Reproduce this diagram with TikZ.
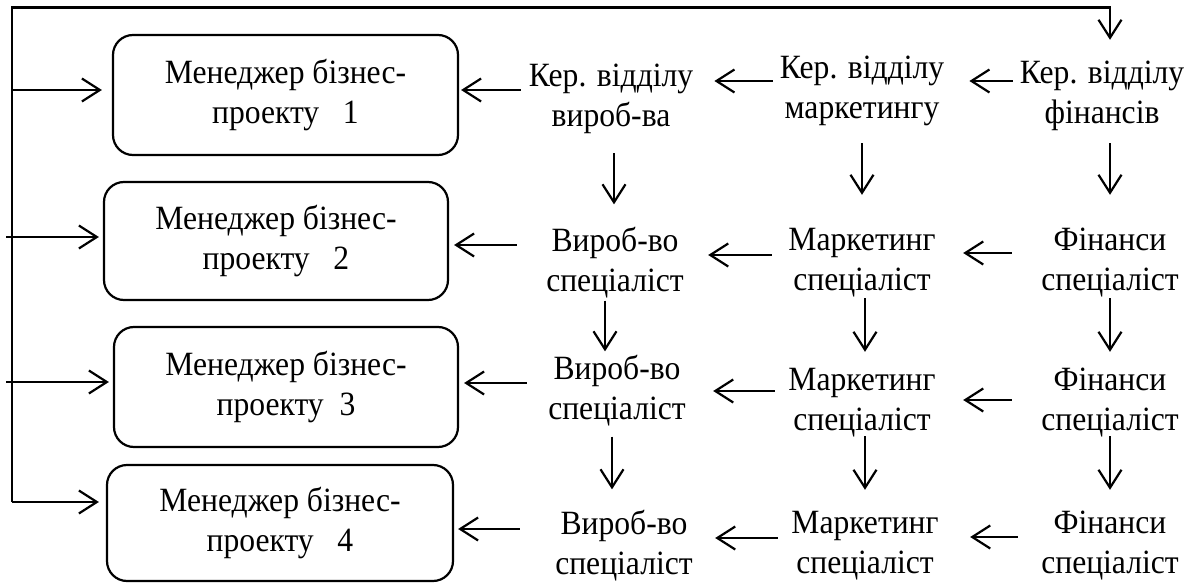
\documentclass[tikz,border=0pt]{standalone}
\usepackage{fontspec}
\setmainfont{Liberation Serif}[FakeStretch=0.93]
\usetikzlibrary{arrows.meta}
\begin{document}
\begin{tikzpicture}[x=1pt,y=-1pt,
  ln/.style={line width=2.2pt},
  arr/.style={line width=2.2pt,-{Straight Barb[length=18pt,width=23pt]}},
  txt/.style={font=\fontsize{34}{40}\selectfont,align=center,inner sep=0pt,minimum width=160pt,minimum height=70pt},
  pbox/.style={draw,line width=2.2pt,rounded corners=20pt,font=\fontsize{34}{40}\selectfont,align=center,inner sep=0pt}]
\useasboundingbox (0,0) rectangle (1192,583);
% project boxes
\node[pbox,minimum width=345pt,minimum height=120pt] (box1) at (285.5,95) {Менеджер бізнес-\\проекту\ \ \ 1};
\node[pbox,minimum width=344pt,minimum height=118pt] (box2) at (276,241) {Менеджер бізнес-\\проекту\ \ \ 2};
\node[pbox,minimum width=344pt,minimum height=120pt] (box3) at (286,387) {Менеджер бізнес-\\проекту\ \ 3};
\node[pbox,minimum width=346pt,minimum height=116pt] (box4) at (280,523) {Менеджер бізнес-\\проекту\ \ \ 4};
% department nodes
\node[txt] (A1) at (611,98.5) {Кер. відділу\\вироб-ва};
\node[txt] (B1) at (862,90.5) {Кер. відділу\\маркетингу};
\node[txt] (C1) at (1102,95.5) {Кер. відділу\\фінансів};
\node[txt] (A2) at (615,262.5) {Вироб-во\\спеціаліст};
\node[txt] (B2) at (862,262.5) {Маркетинг\\спеціаліст};
\node[txt] (C2) at (1110,262.5) {Фінанси\\спеціаліст};
\node[txt] (A3) at (617,390.5) {Вироб-во\\спеціаліст};
\node[txt] (B3) at (862,402.5) {Маркетинг\\спеціаліст};
\node[txt] (C3) at (1110,402.5) {Фінанси\\спеціаліст};
\node[txt] (A4) at (624,545.5) {Вироб-во\\спеціаліст};
\node[txt] (B4) at (865,545.5) {Маркетинг\\спеціаліст};
\node[txt] (C4) at (1110,545.5) {Фінанси\\спеціаліст};
% helper coordinates
\coordinate (topL) at (12,7.5);
\coordinate (botL) at (12,502);
\coordinate (in1) at (12,90);
\coordinate (in2) at (6,237);
\coordinate (in3) at (6,382);
\coordinate (yA1) at (0,90);  \coordinate (yB1) at (0,81);  \coordinate (yC1) at (0,81);
\coordinate (yA2) at (0,245); \coordinate (yB2) at (0,255); \coordinate (yC2) at (0,253);
\coordinate (yA3) at (0,383); \coordinate (yB3) at (0,391); \coordinate (yC3) at (0,400);
\coordinate (yA4) at (0,529); \coordinate (yB4) at (0,538); \coordinate (yC4) at (0,537);
% feedback bus
\draw[arr,shorten >=20.5pt] (botL) -- (topL) -| ([xshift=8pt]C1.north);
\draw[arr,shorten >=10pt] (in1) -- (box1.west |- in1);
\draw[arr,shorten >=4pt] (in2) -- (box2.west |- in2);
\draw[arr,shorten >=4pt] (in3) -- (box3.west |- in3);
\draw[arr,shorten >=7pt] (botL) -- (box4.west |- botL);
% horizontal arrows
\draw[arr,shorten <=8pt,shorten >=2pt] (A1.west |- yA1) -- (box1.east |- yA1);
\draw[arr,shorten <=7pt,shorten >=21pt] (B1.west |- yB1) -- (A1.east |- yB1);
\draw[arr,shorten <=7pt,shorten >=25pt] (C1.west |- yC1) -- (B1.east |- yC1);
\draw[arr,shorten <=18pt,shorten >=5pt] (A2.west |- yA2) -- (box2.east |- yA2);
\draw[arr,shorten <=10pt,shorten >=13pt] (B2.west |- yB2) -- (A2.east |- yB2);
\draw[arr,shorten <=18pt,shorten >=21pt] (C2.west |- yC2) -- (B2.east |- yC2);
\draw[arr,shorten <=10pt,shorten >=5pt] (A3.west |- yA3) -- (box3.east |- yA3);
\draw[arr,shorten <=7pt,shorten >=16pt] (B3.west |- yB3) -- (A3.east |- yB3);
\draw[arr,shorten <=18pt,shorten >=21pt] (C3.west |- yC3) -- (B3.east |- yC3);
\draw[arr,shorten <=24pt,shorten >=4pt] (A4.west |- yA4) -- (box4.east |- yA4);
\draw[arr,shorten <=7pt,shorten >=11pt] (B4.west |- yB4) -- (A4.east |- yB4);
\draw[arr,shorten <=12pt,shorten >=25pt] (C4.west |- yC4) -- (B4.east |- yC4);
% vertical arrows
\draw[arr,shorten <=19.5pt,shorten >=22.5pt] ([xshift=3pt]A1.south) -- ([xshift=-1pt]A2.north);
\draw[arr,shorten <=17.5pt,shorten >=32.5pt] (B1.south) -- (B2.north);
\draw[arr,shorten <=12.5pt,shorten >=32.5pt] ([xshift=8pt]C1.south) -- (C2.north);
\draw[arr,shorten <=2.5pt,shorten >=3.5pt] ([xshift=-10pt]A2.south) -- ([xshift=-12pt]A3.north);
\draw[arr,shorten <=0.5pt,shorten >=15.5pt] ([xshift=3pt]B2.south) -- ([xshift=3pt]B3.north);
\draw[arr,shorten <=0.5pt,shorten >=15.5pt] (C2.south) -- (C3.north);
\draw[arr,shorten <=10.5pt,shorten >=20.5pt] ([xshift=-5pt]A3.south) -- ([xshift=-12pt]A4.north);
\draw[arr,shorten <=-1.5pt,shorten >=20.5pt] ([xshift=3pt]B3.south) -- (B4.north);
\draw[arr,shorten <=-1.5pt,shorten >=20.5pt] (C3.south) -- (C4.north);
\end{tikzpicture}
\end{document}
